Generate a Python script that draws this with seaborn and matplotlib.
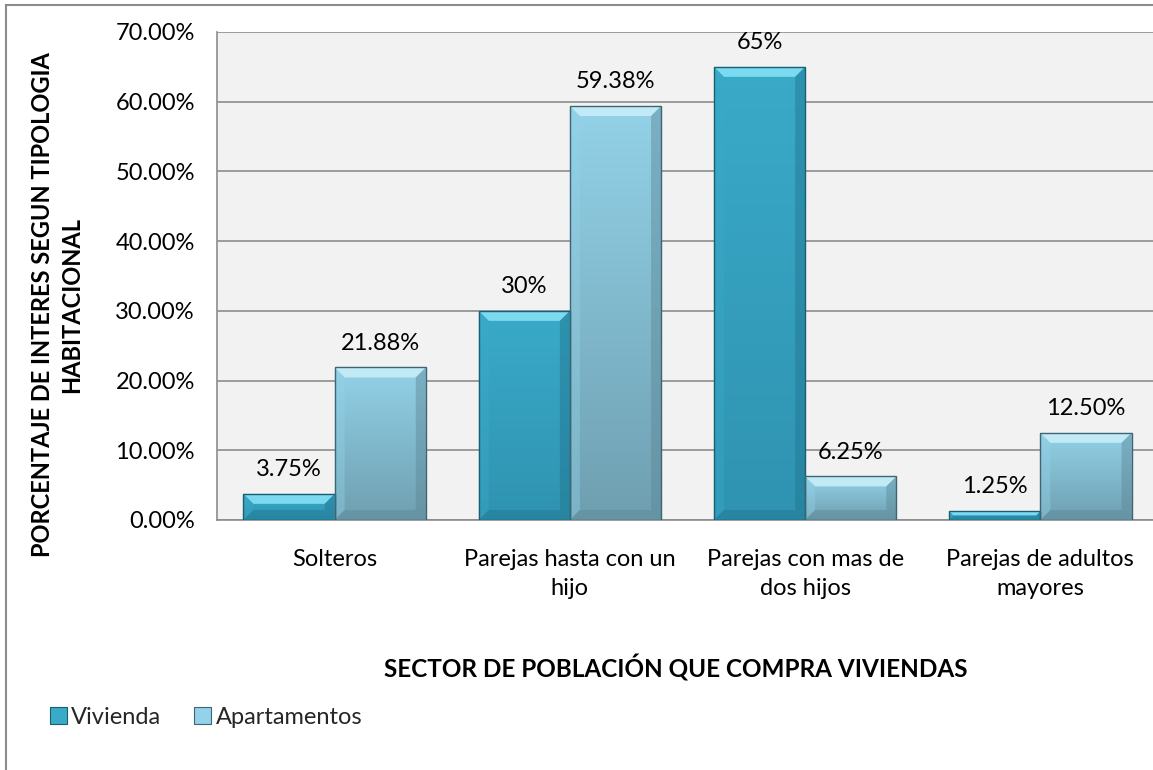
import numpy as np
import pandas as pd
import matplotlib
matplotlib.use("Agg")
import matplotlib.pyplot as plt
import matplotlib.patches as mpatches
import matplotlib.colors as mcolors
import seaborn as sns

categories = ["Solteros", "Parejas hasta con un\nhijo", "Parejas con mas de\ndos hijos", "Parejas de adultos\nmayores"]
series_names = ["Vivienda", "Apartamentos"]
vivienda = [3.75, 30.0, 65.0, 1.25]
apartamentos = [21.88, 59.38, 6.25, 12.50]
vivienda_labels = ["3.75%", "30%", "65%", "1.25%"]
apartamentos_labels = ["21.88%", "59.38%", "6.25%", "12.50%"]
y_ticks = [0, 10, 20, 30, 40, 50, 60, 70]

df = pd.DataFrame({
    "cat": categories * 2,
    "serie": [series_names[0]] * 4 + [series_names[1]] * 4,
    "val": vivienda + apartamentos,
})

# colour sets per series: (top, bottom, light bevel, dark bevel, edge)
styles = {
    "Vivienda": ("#3AAAC9", "#2F93B1", "#7FDDF3", "#1F7590", "#1B5E73"),
    "Apartamentos": ("#93D2E8", "#6E9FB0", "#C4ECF7", "#5C8796", "#3F6473"),
}

FS = 17
sns.set_theme(style="white")
plt.rcParams["font.family"] = ["Lato", "DejaVu Sans"]

W, H = 1153, 770
fig = plt.figure(figsize=(W / 100, H / 100), dpi=100)
fig.patch.set_facecolor("white")
ax = fig.add_axes([217 / W, 1 - 520 / H, (1158 - 217) / W, (520 - 32) / H])
ax.set_facecolor("#F2F2F2")

sns.barplot(data=df, x="cat", y="val", hue="serie", hue_order=series_names,
            palette=[styles[s][0] for s in series_names], width=0.775,
            saturation=1, ax=ax, legend=False, zorder=3)

ax.set_ylim(0, 70)
ax.set_xlim(-0.5, 3.5)
ax.set_yticks(y_ticks)
ax.set_yticklabels([f"{v:.2f}%" for v in y_ticks], fontsize=FS, color="black")
ax.yaxis.grid(True, color="#8C8C8C", linewidth=1.2, zorder=0)
ax.set_axisbelow(True)

for side in ["top", "right"]:
    ax.spines[side].set_visible(False)
for side in ["left", "bottom"]:
    ax.spines[side].set_color("#8C8C8C")
    ax.spines[side].set_linewidth(1.2)

ax.tick_params(axis="y", direction="out", length=10, width=1.2, color="#8C8C8C", pad=6)
ax.set_xticks([0, 1, 2, 3])
ax.set_xticklabels(categories, fontsize=FS, color="black", linespacing=1.45)
ax.tick_params(axis="x", length=0, pad=21)
ax.set_xticks([-0.5, 0.5, 1.5, 2.5, 3.5], minor=True)
ax.tick_params(axis="x", which="minor", direction="out", length=8, width=1.2, color="#8C8C8C")
ax.set_xlabel("")
ax.set_ylabel("")

fig.canvas.draw()
to_disp = ax.transData
to_data = ax.transData.inverted()

def shade_bar(patch, style):
    top_c, bot_c, light, dark, edge = style
    x0, y0 = patch.get_x(), patch.get_y()
    x1, y1 = x0 + patch.get_width(), y0 + patch.get_height()
    patch.set_facecolor("none")
    patch.set_edgecolor(edge)
    patch.set_linewidth(1.0)
    patch.set_zorder(6)
    # vertical gradient body
    grad = np.linspace(0, 1, 256).reshape(-1, 1)
    cmap = mcolors.LinearSegmentedColormap.from_list("g", [top_c, bot_c])
    im = ax.imshow(grad, extent=[x0, x1, y0, y1], aspect="auto", cmap=cmap,
                   origin="upper", zorder=4, interpolation="bilinear")
    im.set_clip_path(patch)
    # bevels, sized in pixels
    (px0, py0), (px1, py1) = to_disp.transform([(x0, y0), (x1, y1)])
    b = min(10, (py1 - py0) / 2.2, (px1 - px0) / 4)
    pts = {
        "top": [(px0, py1), (px1, py1), (px1 - b, py1 - b), (px0 + b, py1 - b)],
        "left": [(px0, py1), (px0 + b, py1 - b), (px0 + b, py0 + b), (px0, py0)],
        "right": [(px1, py1), (px1 - b, py1 - b), (px1 - b, py0 + b), (px1, py0)],
        "bottom": [(px0, py0), (px0 + b, py0 + b), (px1 - b, py0 + b), (px1, py0)],
    }
    cols = {"top": (light, 0.95), "left": (top_c, 0.4), "right": (dark, 0.45), "bottom": (dark, 0.45)}
    for k, poly in pts.items():
        dp = to_data.transform(poly)
        c, a = cols[k]
        ax.add_patch(mpatches.Polygon(dp, closed=True, facecolor=c, alpha=a,
                                      edgecolor="none", zorder=5))

for container, name in zip(ax.containers, series_names):
    for p in container.patches:
        shade_bar(p, styles[name])

ax.bar_label(ax.containers[0], labels=vivienda_labels, padding=10, fontsize=FS, color="black")
ax.bar_label(ax.containers[1], labels=apartamentos_labels, padding=10, fontsize=FS, color="black")

fig.text(57 / W, 1 - 305 / H, "PORCENTAJE DE INTERES SEGUN TIPOLOGIA\nHABITACIONAL",
         rotation=90, ha="center", va="center", fontsize=FS, fontweight="bold",
         linespacing=1.3, color="black")
fig.text(676 / W, 1 - 668 / H, "SECTOR DE POBLACIÓN QUE COMPRA VIVIENDAS",
         ha="center", va="center", fontsize=FS + 0.5, fontweight="bold", color="black")

handles = [mpatches.Patch(facecolor=styles[s][0], edgecolor=styles[s][4], linewidth=0.8, label=s)
           for s in series_names]
fig.legend(handles=handles, loc="center left", bbox_to_anchor=(50 / W, 1 - 717 / H),
           ncol=2, frameon=False, fontsize=FS, handlelength=0.7, handleheight=0.7,
           handletextpad=0.2, columnspacing=1.4, borderaxespad=0, borderpad=0)

# outer chart frame
fig.patches.append(mpatches.Rectangle((6 / W, -0.1), 1.2, 1 - 5 / H + 0.1,
                                      transform=fig.transFigure, fill=False,
                                      edgecolor="#8C8C8C", linewidth=1.5))

fig.savefig("out.png", dpi=100)
